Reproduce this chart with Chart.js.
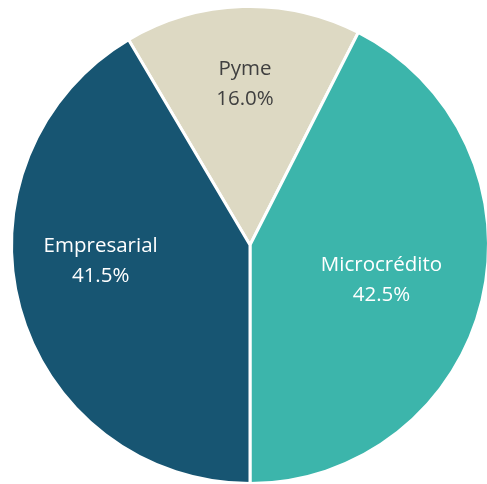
<!DOCTYPE html>
<html>
<head>
<meta charset="utf-8">
<script src="https://cdn.jsdelivr.net/npm/chart.js@4"></script>
<style>
  html, body { margin: 0; padding: 0; background: #fff; overflow: hidden; }
  #wrap { width: 500px; height: 490px; }
</style>
</head>
<body>
<div id="wrap"><canvas id="pieChart"></canvas></div>
<script>
// Datos del gráfico
const categorias = ['Pyme', 'Microcrédito', 'Empresarial'];
const porcentajes = [16.0, 42.5, 41.5];
const colores = ['#DDD9C3', '#3CB5AB', '#175572'];
const coloresTexto = ['#404040', '#ffffff', '#ffffff'];

// posición de las etiquetas: fracción del radio y desvío angular (grados)
const posEtiquetas = [
    { r: 0.675, da: 0 },
    { r: 0.57, da: 1.3 },
    { r: 0.63, da: 9 }
];

const etiquetasPlugin = {
    id: 'etiquetas',
    afterDatasetsDraw(chart) {
        const ctx = chart.ctx;
        const meta = chart.getDatasetMeta(0);
        ctx.save();
        ctx.font = '20.5px "Open Sans", sans-serif';
        ctx.textAlign = 'center';
        ctx.textBaseline = 'middle';
        meta.data.forEach((arc, i) => {
            const p = arc.getProps(['x', 'y', 'startAngle', 'endAngle', 'outerRadius']);
            const ang = (p.startAngle + p.endAngle) / 2 + posEtiquetas[i].da * Math.PI / 180;
            const r = p.outerRadius * posEtiquetas[i].r;
            const x = p.x + Math.cos(ang) * r;
            const y = p.y + Math.sin(ang) * r;
            ctx.fillStyle = coloresTexto[i];
            ctx.fillText(categorias[i], x, y - 15);
            ctx.fillText(porcentajes[i].toFixed(1) + '%', x, y + 15);
        });
        ctx.restore();
    }
};

new Chart(document.getElementById('pieChart'), {
    type: 'pie',
    data: {
        labels: categorias,
        datasets: [{
            data: porcentajes,
            backgroundColor: colores,
            borderColor: '#ffffff',
            borderWidth: 3
        }]
    },
    options: {
        responsive: true,
        maintainAspectRatio: false,
        animation: false,
        rotation: -30.6,
        layout: { padding: { left: 10, top: 5, right: 10, bottom: 5 } },
        plugins: {
            legend: { display: false },
            tooltip: { enabled: false }
        }
    },
    plugins: [etiquetasPlugin]
});
</script>
</body>
</html>
